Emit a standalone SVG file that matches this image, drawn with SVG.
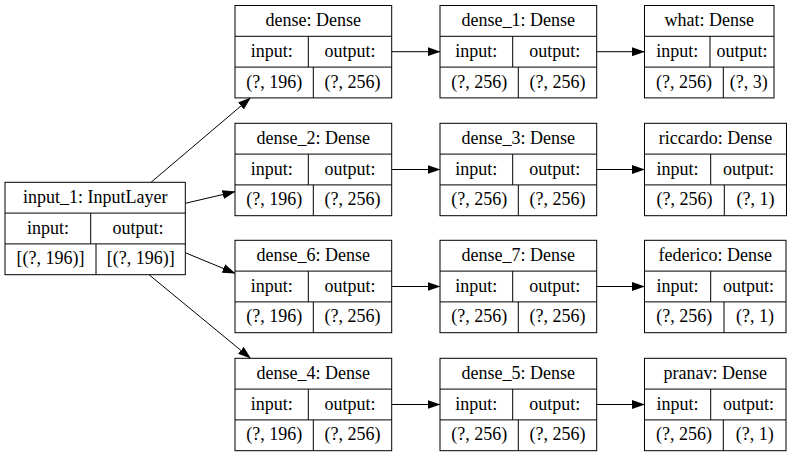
<svg xmlns="http://www.w3.org/2000/svg" width="791" height="456" viewBox="0 0 791 456">
<style>
.b{fill:#fff;stroke:#000;stroke-width:1}
.d{stroke:#000;stroke-width:1;fill:none}
.t text{font-size:18px;fill:#000;text-anchor:middle}
.e{stroke:#000;stroke-width:1;fill:none;marker-end:url(#ah)}
</style>
<defs>
<marker id="ah" markerUnits="userSpaceOnUse" markerWidth="13" markerHeight="9" refX="12.5" refY="4.5" orient="auto" viewBox="0 0 13 9">
<path d="M0,0 L13,4.5 L0,9 z" fill="#000"/>
</marker>
</defs>
<rect width="791" height="456" fill="#fff"/>
<g id="connectors">
<path class="e" d="M151,182.3 L250.5,97.9"/>
<path class="e" d="M185.3,203.3 L235,191.7"/>
<path class="e" d="M185.3,252.7 L235,273.3"/>
<path class="e" d="M149,274.7 L250.5,358.3"/>
<path class="e" d="M391.7,51.7 L440,51.7"/>
<path class="e" d="M391.7,169.5 L440,169.5"/>
<path class="e" d="M391.7,286.5 L440,286.5"/>
<path class="e" d="M391.7,404.5 L440,404.5"/>
<path class="e" d="M596.7,51.7 L644.5,51.7"/>
<path class="e" d="M596.7,169.5 L644.5,169.5"/>
<path class="e" d="M596.7,286.5 L644.5,286.5"/>
<path class="e" d="M596.7,404.5 L644.5,404.5"/>
</g>
<g class="t" font-family="Liberation Serif, Times New Roman, DejaVu Serif, serif">
<g id="input_1">
<rect class="b" x="5" y="182.3" width="180.3" height="92.4"/>
<path class="d" d="M5,213.1 H185.3 M5,243.9 H185.3 M90.7,213.1 V243.9 M96,243.9 V274.7"/>
<text x="95.2" y="203">input_1: InputLayer</text>
<text x="47.9" y="233.7">input:</text>
<text x="138" y="233.7">output:</text>
<text x="50.5" y="264.4">[(?, 196)]</text>
<text x="140.7" y="264.4">[(?, 196)]</text>
</g>
<g id="dense">
<rect class="b" x="235" y="5.5" width="156.7" height="92.4"/>
<path class="d" d="M235,36.3 H391.7 M235,67.1 H391.7 M308.3,36.3 V67.1 M313.3,67.1 V97.9"/>
<text x="313.3" y="26.2">dense: Dense</text>
<text x="271.7" y="56.9">input:</text>
<text x="350" y="56.9">output:</text>
<text x="274.2" y="87.6">(?, 196)</text>
<text x="352.5" y="87.6">(?, 256)</text>
</g>
<g id="dense_1">
<rect class="b" x="440" y="5.5" width="156.7" height="92.4"/>
<path class="d" d="M440,36.3 H596.7 M440,67.1 H596.7 M512.7,36.3 V67.1 M518.3,67.1 V97.9"/>
<text x="518.3" y="26.2">dense_1: Dense</text>
<text x="476.3" y="56.9">input:</text>
<text x="554.7" y="56.9">output:</text>
<text x="479.2" y="87.6">(?, 256)</text>
<text x="557.5" y="87.6">(?, 256)</text>
</g>
<g id="what">
<rect class="b" x="644.5" y="5.5" width="129.5" height="92.4"/>
<path class="d" d="M644.5,36.3 H774 M644.5,67.1 H774 M710,36.3 V67.1 M723.3,67.1 V97.9"/>
<text x="709.3" y="26.2">what: Dense</text>
<text x="677.3" y="56.9">input:</text>
<text x="742" y="56.9">output:</text>
<text x="683.9" y="87.6">(?, 256)</text>
<text x="748.7" y="87.6">(?, 3)</text>
</g>
<g id="dense_2">
<rect class="b" x="235" y="123.3" width="156.7" height="92.4"/>
<path class="d" d="M235,154.1 H391.7 M235,184.9 H391.7 M308.3,154.1 V184.9 M313.3,184.9 V215.7"/>
<text x="313.3" y="144">dense_2: Dense</text>
<text x="271.7" y="174.7">input:</text>
<text x="350" y="174.7">output:</text>
<text x="274.2" y="205.4">(?, 196)</text>
<text x="352.5" y="205.4">(?, 256)</text>
</g>
<g id="dense_3">
<rect class="b" x="440" y="123.3" width="156.7" height="92.4"/>
<path class="d" d="M440,154.1 H596.7 M440,184.9 H596.7 M512.7,154.1 V184.9 M518.3,184.9 V215.7"/>
<text x="518.3" y="144">dense_3: Dense</text>
<text x="476.3" y="174.7">input:</text>
<text x="554.7" y="174.7">output:</text>
<text x="479.2" y="205.4">(?, 256)</text>
<text x="557.5" y="205.4">(?, 256)</text>
</g>
<g id="riccardo">
<rect class="b" x="644.5" y="123.3" width="142" height="92.4"/>
<path class="d" d="M644.5,154.1 H786.5 M644.5,184.9 H786.5 M710.7,154.1 V184.9 M724.3,184.9 V215.7"/>
<text x="715.5" y="144">riccardo: Dense</text>
<text x="677.6" y="174.7">input:</text>
<text x="748.6" y="174.7">output:</text>
<text x="684.4" y="205.4">(?, 256)</text>
<text x="755.4" y="205.4">(?, 1)</text>
</g>
<g id="dense_6">
<rect class="b" x="235" y="240.3" width="156.7" height="92.4"/>
<path class="d" d="M235,271.1 H391.7 M235,301.9 H391.7 M308.3,271.1 V301.9 M313.3,301.9 V332.7"/>
<text x="313.3" y="261">dense_6: Dense</text>
<text x="271.7" y="291.7">input:</text>
<text x="350" y="291.7">output:</text>
<text x="274.2" y="322.4">(?, 196)</text>
<text x="352.5" y="322.4">(?, 256)</text>
</g>
<g id="dense_7">
<rect class="b" x="440" y="240.3" width="156.7" height="92.4"/>
<path class="d" d="M440,271.1 H596.7 M440,301.9 H596.7 M512.7,271.1 V301.9 M518.3,301.9 V332.7"/>
<text x="518.3" y="261">dense_7: Dense</text>
<text x="476.3" y="291.7">input:</text>
<text x="554.7" y="291.7">output:</text>
<text x="479.2" y="322.4">(?, 256)</text>
<text x="557.5" y="322.4">(?, 256)</text>
</g>
<g id="federico">
<rect class="b" x="644.5" y="240.3" width="141.5" height="92.4"/>
<path class="d" d="M644.5,271.1 H786 M644.5,301.9 H786 M710.7,271.1 V301.9 M724,301.9 V332.7"/>
<text x="715.3" y="261">federico: Dense</text>
<text x="677.6" y="291.7">input:</text>
<text x="748.4" y="291.7">output:</text>
<text x="684.3" y="322.4">(?, 256)</text>
<text x="755" y="322.4">(?, 1)</text>
</g>
<g id="dense_4">
<rect class="b" x="235" y="358.3" width="156.7" height="92.4"/>
<path class="d" d="M235,389.1 H391.7 M235,419.9 H391.7 M308.3,389.1 V419.9 M313.3,419.9 V450.7"/>
<text x="313.3" y="379">dense_4: Dense</text>
<text x="271.7" y="409.7">input:</text>
<text x="350" y="409.7">output:</text>
<text x="274.2" y="440.4">(?, 196)</text>
<text x="352.5" y="440.4">(?, 256)</text>
</g>
<g id="dense_5">
<rect class="b" x="440" y="358.3" width="156.7" height="92.4"/>
<path class="d" d="M440,389.1 H596.7 M440,419.9 H596.7 M512.7,389.1 V419.9 M518.3,419.9 V450.7"/>
<text x="518.3" y="379">dense_5: Dense</text>
<text x="476.3" y="409.7">input:</text>
<text x="554.7" y="409.7">output:</text>
<text x="479.2" y="440.4">(?, 256)</text>
<text x="557.5" y="440.4">(?, 256)</text>
</g>
<g id="pranav">
<rect class="b" x="644.5" y="358.3" width="141.5" height="92.4"/>
<path class="d" d="M644.5,389.1 H786 M644.5,419.9 H786 M710.7,389.1 V419.9 M723.3,419.9 V450.7"/>
<text x="715.3" y="379">pranav: Dense</text>
<text x="677.6" y="409.7">input:</text>
<text x="748.4" y="409.7">output:</text>
<text x="684" y="440.4">(?, 256)</text>
<text x="754.7" y="440.4">(?, 1)</text>
</g>
</g>
</svg>
